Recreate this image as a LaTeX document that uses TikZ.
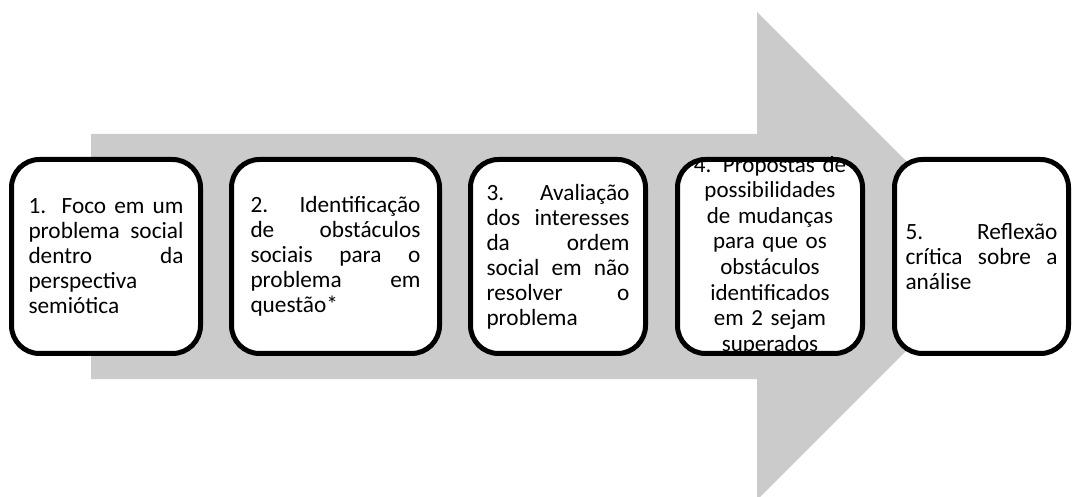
\documentclass[tikz,border=0pt]{standalone}
\usepackage{fontspec}
\setmainfont{Carlito}
\definecolor{arrowgray}{RGB}{203,203,203}
\newcommand{\mystepfont}{\fontsize{23.3}{25}\selectfont\hyphenpenalty=10000\relax\tolerance=10000\relax}
\newcommand{\mystepfontc}{\fontsize{23}{25.6}\selectfont\hyphenpenalty=10000\relax}
\tikzset{
  stepbox/.style={draw=black, line width=5pt, fill=white, rounded corners=28pt, inner sep=0pt, minimum height=194pt},
  steptext/.style={inner sep=0pt, align=justify, font=\mystepfont},
  steptextc/.style={inner sep=0pt, align=center, font=\mystepfontc}
}
\begin{document}
\begin{tikzpicture}[x=1pt,y=-1pt]
\useasboundingbox (0,0) rectangle (1072,497);
\clip (0,0) rectangle (1072,497);
% big arrow
\fill[arrowgray] (91,134) -- (757,134) -- (757,12) -- (1001,256) -- (757,500) -- (757,379) -- (91,379) -- cycle;
% boxes
\node[stepbox, minimum width=189pt] (b1) at (106,256.5) {};
\node[stepbox, minimum width=208pt] (b2) at (335.5,256.5) {};
\node[stepbox, minimum width=175pt] (b3) at (558,256.5) {};
\node[stepbox, minimum width=185pt] (b4) at (770,256.5) {};
\node[stepbox, minimum width=174pt] (b5) at (981.5,256.5) {};
% texts
\node[steptext, text width=155pt] (t1) at (b1.center) {1. Foco em um\linebreak problema social\linebreak dentro da\linebreak perspectiva\linebreak semiótica};
\node[steptext, text width=170pt] (t2) at (b2.center) {2. Identificação\linebreak de obstáculos\linebreak sociais para o\linebreak problema em\linebreak questão*};
\node[steptext, text width=143pt] (t3) at (b3.center) {3. Avaliação\linebreak dos interesses\linebreak da ordem\linebreak social em não\linebreak resolver o\linebreak problema};
\node[steptextc, text width=180pt] (t4) at ([yshift=1pt]b4.center) {4. Propostas de\\ possibilidades\\ de mudanças\\ para que os\\ obstáculos\\ identificados\\ em 2 sejam\\ superados};
\node[steptext, text width=152pt] (t5) at (b5.center) {5. Reflexão\linebreak crítica sobre a\linebreak análise};
\end{tikzpicture}
\end{document}
